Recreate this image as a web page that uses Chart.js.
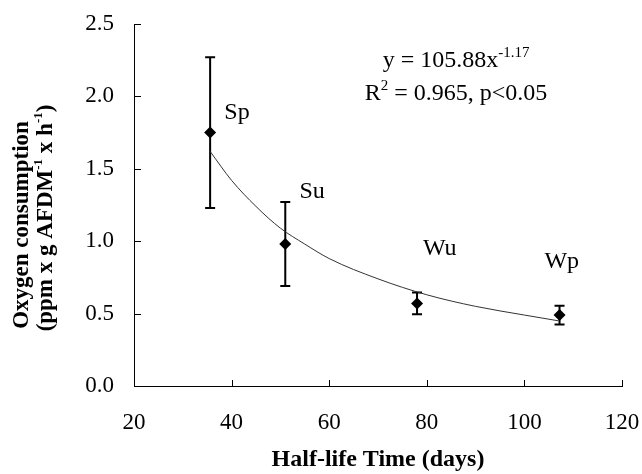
<!DOCTYPE html>
<html>
<head>
<meta charset="utf-8">
<script src="https://cdn.jsdelivr.net/npm/chart.js@4"></script>
<style>
  body { margin: 0; background: #fff; }
  canvas { display: block; }
</style>
</head>
<body>
<canvas id="myChart" width="642" height="474"></canvas>
<script>
var seasons = ['Sp', 'Su', 'Wu', 'Wp'];
var halfLife = [35.6, 51.0, 78.0, 107.2];
var oxygen = [1.75, 0.98, 0.57, 0.49];
var errors = [0.52, 0.29, 0.075, 0.065];

// power fit line
var fitX = [35.6, 40, 45, 50, 55, 60, 70, 80, 90, 100, 107];
var fitY = [1.62, 1.42, 1.24, 1.09, 0.98, 0.88, 0.74, 0.63, 0.55, 0.49, 0.45];

var xTicks = [20, 40, 60, 80, 100, 120];
var yTicks = [0, 0.5, 1.0, 1.5, 2.0, 2.5];

var SERIF = '"Liberation Serif", "Times New Roman", serif';

// where the season labels sit (data units)
var labelAt = [[38.5, 1.89], [53.9, 1.34], [79.2, 0.95], [104.1, 0.86]];

var points = halfLife.map(function(x, i) { return { x: x, y: oxygen[i] }; });
var fit = fitX.map(function(x, i) { return { x: x, y: fitY[i] }; });

function rich(ctx, parts, size, bold, x, y, supScale) {
  var ss = supScale || 0.62;
  var w = 0;
  parts.forEach(function(p) {
    ctx.font = (bold ? 'bold ' : '') + (p.sup ? Math.round(size * ss) : size) + 'px ' + SERIF;
    p.w = ctx.measureText(p.t).width;
    w += p.w;
  });
  var cx = x - w / 2;
  parts.forEach(function(p) {
    ctx.font = (bold ? 'bold ' : '') + (p.sup ? Math.round(size * ss) : size) + 'px ' + SERIF;
    ctx.fillText(p.t, cx, p.sup ? y - size * 0.42 : y);
    cx += p.w;
  });
}

function noPad(s) {
  s.paddingTop = 0; s.paddingBottom = 0; s.paddingLeft = 0; s.paddingRight = 0;
}

var extras = {
  id: 'extras',
  beforeDatasetsDraw: function(chart) {
    var ctx = chart.ctx, xs = chart.scales.x, ys = chart.scales.y;
    ctx.save();
    ctx.strokeStyle = '#000';
    ctx.lineWidth = 2;
    halfLife.forEach(function(v, i) {
      var px = xs.getPixelForValue(v);
      var top = ys.getPixelForValue(oxygen[i] + errors[i]);
      var bot = ys.getPixelForValue(oxygen[i] - errors[i]);
      ctx.beginPath();
      ctx.moveTo(px, top); ctx.lineTo(px, bot);
      ctx.moveTo(px - 5, top); ctx.lineTo(px + 5, top);
      ctx.moveTo(px - 5, bot); ctx.lineTo(px + 5, bot);
      ctx.stroke();
    });
    ctx.restore();
  },
  afterDraw: function(chart) {
    var ctx = chart.ctx, xs = chart.scales.x, ys = chart.scales.y, a = chart.chartArea;
    ctx.save();
    // inward tick marks
    ctx.strokeStyle = '#000';
    ctx.lineWidth = 1;
    ctx.beginPath();
    yTicks.forEach(function(v) {
      var py = Math.round(ys.getPixelForValue(v)) + 0.5;
      ctx.moveTo(a.left, py); ctx.lineTo(a.left + 7, py);
    });
    xTicks.forEach(function(v) {
      var px = Math.round(xs.getPixelForValue(v)) + 0.5;
      ctx.moveTo(px, a.bottom); ctx.lineTo(px, a.bottom - 6);
    });
    ctx.stroke();

    ctx.fillStyle = '#000';
    // season labels
    ctx.font = '24px ' + SERIF;
    ctx.textAlign = 'left';
    ctx.textBaseline = 'middle';
    seasons.forEach(function(s, i) {
      ctx.fillText(s, xs.getPixelForValue(labelAt[i][0]), ys.getPixelForValue(labelAt[i][1]));
    });

    // equation
    ctx.textBaseline = 'alphabetic';
    var ex = xs.getPixelForValue(86);
    rich(ctx, [{ t: 'y = 105.88x' }, { t: '-1.17', sup: true }], 24, false, ex, ys.getPixelForValue(2.2));
    rich(ctx, [{ t: 'R' }, { t: '2', sup: true }, { t: ' = 0.965, p<0.05' }], 24, false, ex, ys.getPixelForValue(1.975));

    // y axis title, two lines rotated
    ctx.translate(28, 222);
    ctx.rotate(-Math.PI / 2);
    rich(ctx, [{ t: 'Oxygen consumption' }], 23, true, -3, 0);
    ctx.rotate(Math.PI / 2);
    ctx.translate(24, 0);
    ctx.rotate(-Math.PI / 2);
    rich(ctx, [{ t: '(ppm x g AFDM' }, { t: '-1', sup: true }, { t: ' x h' }, { t: '-1', sup: true }, { t: ')' }], 23, true, 4, 0, 0.55);
    ctx.restore();
  }
};

new Chart(document.getElementById('myChart').getContext('2d'), {
  type: 'scatter',
  data: {
    datasets: [
      {
        data: fit,
        showLine: true,
        borderColor: '#333',
        borderWidth: 1,
        pointRadius: 0,
        cubicInterpolationMode: 'monotone',
        fill: false
      },
      {
        data: points,
        pointStyle: 'rectRot',
        pointRadius: 6,
        backgroundColor: '#000',
        borderColor: '#000',
        borderWidth: 0
      }
    ]
  },
  plugins: [extras],
  options: {
    responsive: false,
    animation: false,
    devicePixelRatio: 1,
    layout: { padding: { left: 0, right: 20, top: 24, bottom: 0 } },
    plugins: { legend: { display: false }, tooltip: { enabled: false } },
    scales: {
      x: {
        type: 'linear',
        min: 20, max: 120,
        afterBuildTicks: function(s) { s.ticks = xTicks.map(function(v) { return { value: v }; }); },
        afterFit: function(s) { s.height = 88; noPad(s); },
        grid: { display: false, drawTicks: false },
        border: { display: true, color: '#000', width: 1 },
        ticks: { color: '#000', padding: 23, maxRotation: 0, font: { family: SERIF, size: 23 } },
        title: {
          display: true,
          text: 'Half-life Time (days)',
          color: '#000',
          padding: { top: 0, bottom: 0 },
          font: { family: SERIF, size: 24, weight: 'bold' }
        }
      },
      y: {
        type: 'linear',
        min: 0, max: 2.5,
        afterBuildTicks: function(s) { s.ticks = yTicks.map(function(v) { return { value: v }; }); },
        afterFit: function(s) { s.width = 134; noPad(s); },
        grid: { display: false, drawTicks: false },
        border: { display: true, color: '#000', width: 1 },
        ticks: {
          color: '#000', padding: 20,
          font: { family: SERIF, size: 23 },
          callback: function(v) { return v.toFixed(1); }
        }
      }
    }
  }
});
</script>
</body>
</html>
